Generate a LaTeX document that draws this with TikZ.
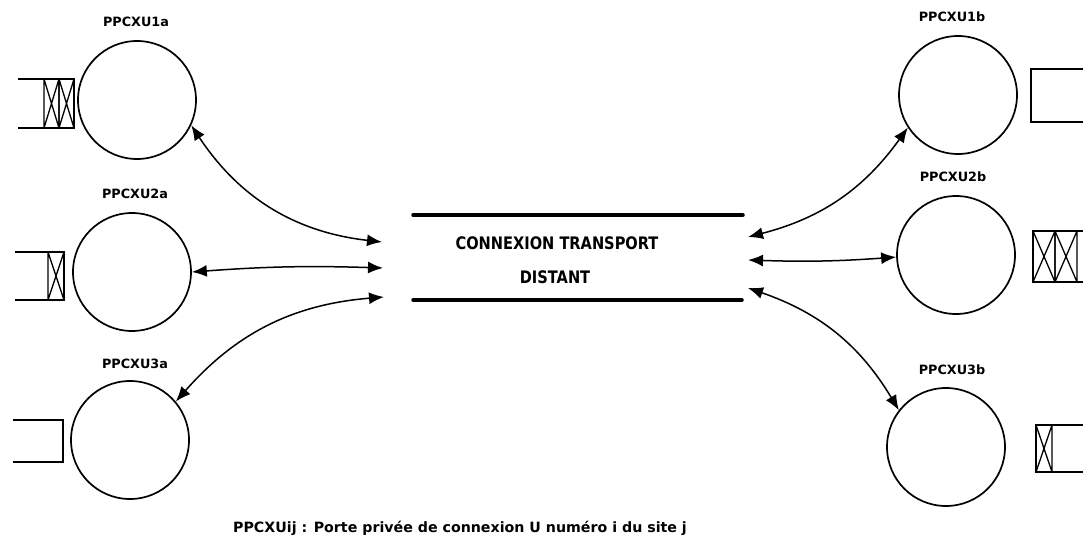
\documentclass[tikz,border=0pt]{standalone}
\usepackage{graphicx}
\usepackage{fontspec}
\newfontfamily\printfont{DejaVu Sans}
\usetikzlibrary{arrows.meta}
% a hatched cell: rectangle with both diagonals
\newcommand{\xcell}[4]{\draw[hatch] (#1,#2) -- (#1,#4) (#3,#2) -- (#3,#4) (#1,#2) -- (#3,#4) (#3,#2) -- (#1,#4);}
\begin{document}
\begin{tikzpicture}[x=1pt,y=-1pt,
  port/.style={circle,draw,line width=1.7pt,minimum size=118pt,inner sep=0pt},
  lbl/.style={font=\printfont\bfseries\fontsize{12.8}{14}\selectfont,inner sep=0pt},
  big/.style={font=\printfont\bfseries\fontsize{14.6}{16}\selectfont,inner sep=0pt},
  link/.style={line width=1.5pt,{Latex[length=15pt,width=12pt]}-{Latex[length=15pt,width=12pt]}},
  frame/.style={line width=2.2pt},
  hatch/.style={line width=1.3pt},
  rail/.style={line width=3.5pt,line cap=round}]
\useasboundingbox (0,0) rectangle (1083,537);

% ports of site a
\node[port] (p1a) at (137,100) {};
\node[port] (p2a) at (132,272) {};
\node[port] (p3a) at (130,440) {};
\node[lbl] (l1a) at (136,22) {PPCXU1a};
\node[lbl] (l2a) at (135,194) {PPCXU2a};
\node[lbl] (l3a) at (135,364) {PPCXU3a};

% ports of site b
\node[port] (p1b) at (958,95) {};
\node[port] (p2b) at (956,255) {};
\node[port] (p3b) at (946,447) {};
\node[lbl] (l1b) at (952,17) {PPCXU1b};
\node[lbl] (l2b) at (953,177) {PPCXU2b};
\node[lbl] (l3b) at (952,370) {PPCXU3b};

% boxes beside the ports
\draw[frame] (18,79) -- (74,79) -- (74,128) -- (18,128);
\xcell{44}{79}{59}{128}
\xcell{59}{79}{74}{128}
\draw[frame] (15,252) -- (64,252) -- (64,300) -- (15,300);
\xcell{48}{252}{64}{300}
\draw[frame] (13,420) -- (63,420) -- (63,462) -- (13,462);

\draw[frame] (1083,69) -- (1031,69) -- (1031,122) -- (1083,122);
\draw[frame] (1083,231) -- (1033,231) -- (1033,282) -- (1083,282);
\xcell{1033}{231}{1055}{282}
\xcell{1055}{231}{1077}{282}
\draw[frame] (1083,425) -- (1036,425) -- (1036,472) -- (1083,472);
\xcell{1036}{425}{1052}{472}

% remote transport connection
\coordinate (r1) at (413,215);
\coordinate (r2) at (743,215);
\coordinate (r3) at (413,300);
\coordinate (r4) at (742,300);
\draw[rail] (r1) -- (r2);
\draw[rail] (r3) -- (r4);
\node[big] (t1) at (557,243) {\scalebox{1}[1.18]{CONNEXION TRANSPORT}};
\node[big] (t2) at (555,277) {\scalebox{1}[1.18]{DISTANT}};

% connection ends
\coordinate (e1a) at (382,242);
\coordinate (e2a) at (383,268);
\coordinate (e3a) at (384,297);
\coordinate (e1b) at (748,237);
\coordinate (e2b) at (748,260);
\coordinate (e3b) at (748,288);

\draw[link] (p1a.-25) to[bend right=25] (e1a);
\draw[link] (p2a.0) to[bend left=3] (e2a);
\draw[link] (p3a.40) to[bend left=22] (e3a);
\draw[link] (p1b.213) to[bend left=20] (e1b);
\draw[link] (p2b.182) to[bend left=3] (e2b);
\draw[link] (p3b.142) to[bend right=20] (e3b);

% key
\node[lbl,anchor=base,font=\printfont\bfseries\fontsize{14.2}{16}\selectfont] (key) at (460,532) {PPCXUij : Porte privée de connexion U numéro i du site j};
\end{tikzpicture}
\end{document}
